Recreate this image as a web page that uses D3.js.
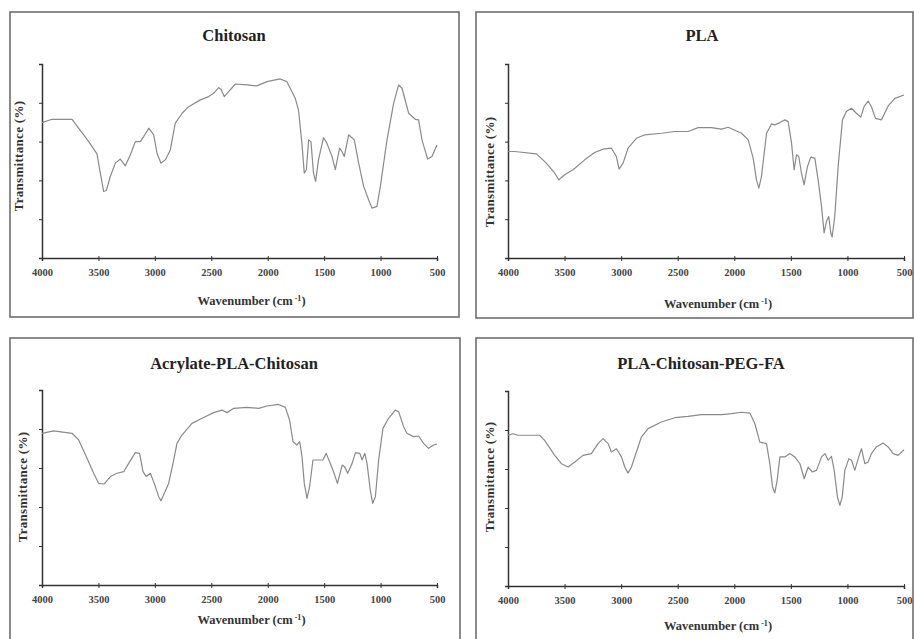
<!DOCTYPE html>
<html>
<head>
<meta charset="utf-8">
<script src="https://cdn.jsdelivr.net/npm/d3@7"></script>
<style>
  body { margin: 0; background: #fff; }
  svg { display: block; }
  .title { font-family: "Liberation Serif", "Times New Roman", serif; font-weight: bold; font-size: 16.5px; fill: #222; }
  .axis-title { font-family: "Liberation Serif", "Times New Roman", serif; font-weight: bold; font-size: 12.5px; fill: #333; }
  .ylab { font-size: 13px; letter-spacing: 0.3px; }
  .tick text { font-family: "Liberation Serif", "Times New Roman", serif; font-weight: bold; font-size: 10.5px; fill: #444; }
</style>
</head>
<body>
<div id="chart-area"></div>
<script>
// FTIR spectra (wavenumber cm-1, transmittance in % of axis height)

var xTicks = [4000, 3500, 3000, 2500, 2000, 1500, 1000, 500];
var yTicks = [0, 20, 40, 60, 80, 100];

var chitosanWn = [4000, 3911, 3734, 3586, 3513, 3483, 3454, 3430, 3395, 3350, 3306, 3262, 3217, 3173, 3129, 3099, 3054, 3010, 2981, 2946, 2907, 2863, 2819, 2759, 2700, 2597, 2523, 2479, 2435, 2414, 2385, 2346, 2287, 2184, 2096, 2007, 1889, 1830, 1756, 1727, 1697, 1676, 1658, 1637, 1617, 1594, 1576, 1550, 1506, 1476, 1430, 1401, 1363, 1342, 1322, 1283, 1233, 1194, 1150, 1106, 1076, 1032, 1002, 943, 884, 840, 810, 751, 692, 663, 633, 583, 545, 500];
var chitosanT = [69.8, 71.5, 71.5, 60, 53.7, 43.7, 34.3, 34.8, 42, 48.9, 51, 47.5, 53.2, 60, 60, 62.6, 66.9, 63.5, 54, 48.9, 50.6, 55.7, 69.5, 74.6, 78, 81.5, 83.2, 84.9, 87.8, 87, 83.2, 85.8, 89.7, 89.2, 88.7, 90.9, 92.3, 90.9, 82.3, 76.3, 59.2, 43.7, 45.5, 60.9, 60, 43.7, 39.5, 50.6, 62.1, 59.2, 52.3, 45.5, 56.6, 54.9, 52.3, 63.5, 60.9, 48.9, 36.9, 30, 25.7, 26.6, 36.9, 60.9, 79.8, 89.2, 87.5, 74.6, 71.5, 71.2, 60.9, 51, 52.3, 58.3];

var plaWn = [4000, 3941, 3749, 3661, 3587, 3551, 3499, 3425, 3322, 3234, 3160, 3086, 3042, 3018, 2983, 2939, 2865, 2791, 2644, 2526, 2408, 2320, 2202, 2113, 2054, 1936, 1877, 1833, 1804, 1783, 1760, 1715, 1671, 1642, 1597, 1553, 1524, 1494, 1471, 1450, 1430, 1406, 1383, 1353, 1324, 1288, 1259, 1229, 1206, 1185, 1165, 1147, 1135, 1112, 1082, 1044, 1009, 965, 921, 882, 853, 817, 788, 752, 699, 640, 580, 500];
var plaT = [54.9, 54.9, 53.7, 48.9, 43.7, 40.3, 42.9, 45.5, 50.6, 54.4, 56.1, 56.6, 52.3, 45.8, 48.9, 56.6, 61.7, 63.5, 64.3, 65.2, 65.2, 67.2, 67.2, 66.4, 67.4, 64.3, 60.9, 51.5, 40.3, 36, 42, 64.3, 69.1, 68.6, 69.8, 71.2, 70.3, 59.2, 45.5, 53.2, 52.3, 43.7, 37.7, 47.2, 52, 51.5, 40.3, 26.6, 12.9, 18.9, 21.4, 12.9, 10.8, 21.4, 47.2, 71.2, 75.5, 77.2, 74.6, 72.6, 78, 80.9, 78, 72, 71.2, 78.4, 82.3, 84];

var acrylateWn = [4000, 3897, 3734, 3675, 3601, 3542, 3498, 3448, 3394, 3335, 3276, 3232, 3173, 3135, 3105, 3076, 3040, 3005, 2966, 2946, 2916, 2878, 2839, 2804, 2760, 2671, 2582, 2479, 2405, 2361, 2301, 2184, 2080, 2007, 1903, 1844, 1806, 1776, 1741, 1717, 1696, 1676, 1652, 1629, 1599, 1549, 1511, 1482, 1446, 1417, 1382, 1340, 1320, 1291, 1252, 1223, 1184, 1164, 1140, 1120, 1091, 1070, 1046, 1017, 979, 929, 870, 840, 796, 767, 708, 663, 619, 575, 530, 500];
var acrylateT = [77.8, 79, 77.8, 74.4, 65, 57.3, 52.1, 51.8, 55.6, 57.3, 58.1, 62.4, 67.9, 67.5, 58.1, 55.6, 57.3, 52.1, 45.3, 43.2, 47, 52.1, 62.4, 72.6, 76.9, 82.9, 85.5, 88.4, 89.7, 88.4, 90.6, 91.1, 90.6, 91.8, 92.6, 91.1, 84.6, 73.5, 71.8, 73.5, 65.8, 52.1, 44.4, 50.4, 64.1, 64.1, 64.1, 67.5, 62.4, 58.1, 52.1, 61.5, 60.7, 57.3, 62.4, 67.9, 67.5, 64.1, 67.5, 62.4, 48.7, 41.9, 45.3, 64.1, 80.3, 85.5, 89.7, 88.9, 81.2, 77.8, 76.1, 76.4, 72.6, 70.1, 71.8, 72.3];

var pegWn = [4000, 3956, 3911, 3720, 3676, 3587, 3528, 3469, 3410, 3337, 3263, 3204, 3160, 3115, 3086, 3042, 2997, 2968, 2939, 2909, 2865, 2821, 2762, 2644, 2526, 2408, 2290, 2113, 2025, 1936, 1862, 1818, 1774, 1715, 1686, 1662, 1642, 1621, 1597, 1553, 1509, 1465, 1420, 1382, 1347, 1311, 1273, 1229, 1199, 1170, 1141, 1117, 1088, 1067, 1046, 1023, 987, 964, 935, 905, 876, 846, 817, 788, 744, 685, 640, 596, 552, 500];
var pegT = [77.3, 78.1, 77.3, 77.3, 74.7, 67, 62.7, 61, 63.6, 67, 67.9, 73, 75.6, 73, 68.7, 70.4, 66.2, 61, 57.9, 61, 68.7, 76.4, 80.7, 84.1, 86.3, 87, 87.9, 87.9, 88.4, 89.1, 88.7, 83.2, 73.8, 73, 62.7, 50.8, 47.7, 54.2, 66.2, 66.2, 67.9, 66.2, 62.7, 55, 61, 58.5, 59.3, 66.2, 67.9, 64.5, 66.5, 59.3, 45.6, 41.4, 45.6, 59.3, 65.3, 64.5, 59.3, 65.3, 70.4, 62.7, 63.6, 67.9, 71.3, 73.3, 71.3, 67.9, 67, 69.9];

var titles = ["Chitosan", "PLA", "Acrylate-PLA-Chitosan", "PLA-Chitosan-PEG-FA"];

var width = 914, height = 639;

var svg = d3.select("#chart-area")
    .append("svg")
    .attr("width", width)
    .attr("height", height);

// panel geometry (border box, plot box, text positions)
var panels = [
    {wn: chitosanWn, t: chitosanT, box: [10, 12, 449, 305], plot: [42, 64, 437, 258], titleX: 234, titleY: 41, xtY: 305, ylX: 23, ylY: 156},
    {wn: plaWn, t: plaT, box: [476, 12, 437, 306], plot: [508, 64, 904, 258], titleX: 702, titleY: 41, xtY: 308, ylX: 494, ylY: 172},
    {wn: acrylateWn, t: acrylateT, box: [10, 338, 450, 310], plot: [42, 390, 437, 585], titleX: 234, titleY: 369, xtY: 624, ylX: 27, ylY: 487},
    {wn: pegWn, t: pegT, box: [476, 338, 437, 310], plot: [508, 391, 904, 586], titleX: 701, titleY: 369, xtY: 630, ylX: 494, ylY: 477}
];

panels.forEach(function(p, i) {

    var g = svg.append("g").attr("class", "panel");

    g.append("rect")
        .attr("x", p.box[0])
        .attr("y", p.box[1])
        .attr("width", p.box[2])
        .attr("height", p.box[3])
        .attr("fill", "none")
        .attr("stroke", "#6e6e6e")
        .attr("stroke-width", 1.6);

    var x = d3.scaleLinear()
        .domain([4000, 500])
        .range([p.plot[0], p.plot[2]]);

    var y = d3.scaleLinear()
        .domain([0, 100])
        .range([p.plot[3], p.plot[1]]);

    // x axis
    var xAxis = g.append("g")
        .attr("transform", "translate(0," + p.plot[3] + ")")
        .call(d3.axisBottom(x).tickValues(xTicks).tickSize(3).tickPadding(8).tickFormat(d3.format("d")));
    xAxis.select(".domain").attr("stroke", "#333").attr("stroke-width", 1.5);
    xAxis.selectAll(".tick line").attr("y1", -2).attr("stroke", "#333");

    // y axis, no labels
    var yAxis = g.append("g")
        .attr("transform", "translate(" + p.plot[0] + ",0)")
        .call(d3.axisLeft(y).tickValues(yTicks).tickSize(3).tickFormat(""));
    yAxis.select(".domain").attr("stroke", "#333").attr("stroke-width", 1.5);
    yAxis.selectAll(".tick line").attr("stroke", "#333");

    var line = d3.line()
        .x(function(d) { return x(d[0]); })
        .y(function(d) { return y(d[1]); });

    g.append("path")
        .datum(d3.zip(p.wn, p.t))
        .attr("fill", "none")
        .attr("stroke", "#8a8a8a")
        .attr("stroke-width", 1.2)
        .attr("stroke-linejoin", "round")
        .attr("d", line);

    g.append("text")
        .attr("class", "title")
        .attr("x", p.titleX)
        .attr("y", p.titleY)
        .attr("text-anchor", "middle")
        .text(titles[i]);

    var xt = g.append("text")
        .attr("class", "axis-title")
        .attr("x", (p.plot[0] + p.plot[2]) / 2 + 12)
        .attr("y", p.xtY)
        .attr("text-anchor", "middle")
        .text("Wavenumber (cm");
    xt.append("tspan").attr("dy", -4).attr("font-size", "8px").text(" -1");
    xt.append("tspan").attr("dy", 4).text(")");

    g.append("text")
        .attr("class", "axis-title ylab")
        .attr("transform", "translate(" + p.ylX + "," + p.ylY + ") rotate(-90)")
        .attr("text-anchor", "middle")
        .text("Transmittance (%)");
});
</script>
</body>
</html>
